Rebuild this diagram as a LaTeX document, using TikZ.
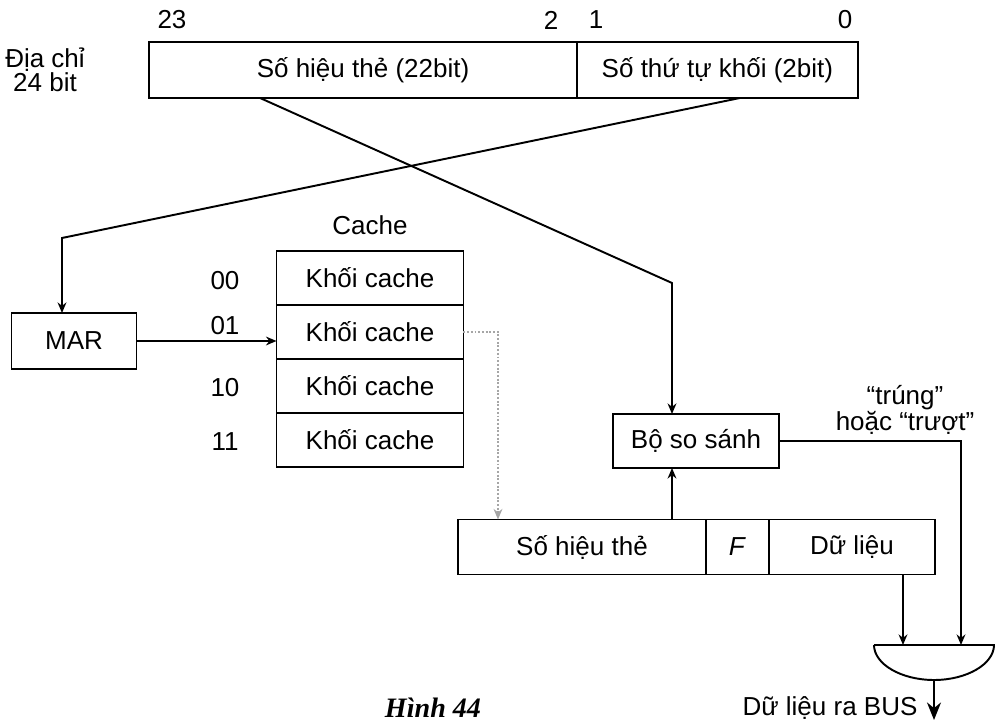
\documentclass[tikz,border=0pt]{standalone}
\usepackage{fontspec}
\setmainfont{Liberation Sans}
\newfontfamily\captionfont{Liberation Serif}
\usetikzlibrary{arrows.meta,positioning}
\begin{document}
\begin{tikzpicture}[x=0.02cm, y=-0.02cm, font=\fontsize{14.8}{13.6}\selectfont,
        box/.style={draw, line width=1.1pt, inner sep=0pt, outer sep=0pt},
        wire/.style={line width=1.1pt},
        arr/.style={wire, -{Stealth[length=6pt, width=5pt]}}]
    \useasboundingbox (0,0) rectangle (995,722);
    % Address
    \node[box, minimum width=8.56cm, minimum height=1.12cm] (tag) at (363,70) {Số hiệu thẻ (22bit)};
    \node[box, minimum width=5.62cm, minimum height=1.12cm, right=0pt of tag] (blk) {Số thứ tự khối (2bit)};
    \node[align=center] (addr) at (45,70) {Địa chỉ\\24 bit};
    \foreach \x/\b in {172/23, 551/2, 596/1, 845/0}
        \node (bit\b) at (\x,20) {\b};
    % MAR and cache
    \node[box, minimum width=2.5cm, minimum height=1.12cm] (mar) at (74,341) {MAR};
    \node (cachelbl) at (370,225) {Cache};
    \foreach \i/\y/\ly/\lbl in {0/278/281/00, 1/332/326/01, 2/386/388/10, 3/440/442/11}{
        \node[box, minimum width=3.74cm, minimum height=1.08cm] (row\i) at (370,\y) {Khối cache};
        \node (idx\i) at (225,\ly) {\lbl};
    }
    % Comparator and line
    \node[box, minimum width=3.32cm, minimum height=1.08cm] (cmp) at (696,441) {Bộ so sánh};
    \node[box, minimum width=4.96cm, minimum height=1.1cm] (ltag) at (582,547) {Số hiệu thẻ};
    \node[box, minimum width=1.26cm, minimum height=1.1cm, right=0pt of ltag] (flag) {\textit{F}};
    \node[box, minimum width=3.32cm, minimum height=1.1cm, right=0pt of flag] (data) {Dữ liệu};
    \node[align=center] (hit) at (905,410) {“trúng”\\hoặc “trượt”};
    % Gate
    \coordinate (gate) at (934,645);
    \coordinate (gout) at (934,680);
    \draw[wire] (874,645) -- (994,645) .. controls (994,664) and (967,680) .. (gout)
        .. controls (901,680) and (874,664) .. (874,645);
    \node (bus) at (830,708) {Dữ liệu ra BUS};
    \node[font=\fontsize{16}{18}\selectfont\captionfont\bfseries\itshape] (cap) at (433,708) {Hình 44};
    % Connectors
    \draw[arr] (tag.south west) ++(111,0) -- (672,283) -- (672,0 |- cmp.north);
    \draw[arr] (blk.south west) ++(163,0) -- (62,238) -- (62,0 |- mar.north);
    \draw[arr] (mar.east) -- (mar.east -| row1.west);
    \draw[arr, densely dotted, gray!70, line width=1.5pt] (row1.east) -| (498,0 |- ltag.north);
    \draw[arr] (672,0 |- ltag.north) -- (672,0 |- cmp.south);
    \draw[arr] (cmp.east) -| (961,0 |- gate);
    \draw[arr] (903,0 |- data.south) -- (903,0 |- gate);
    \draw[wire, -{Stealth[length=10pt, width=8pt]}] (gout) -- ++(0,40);
\end{tikzpicture}
\end{document}
